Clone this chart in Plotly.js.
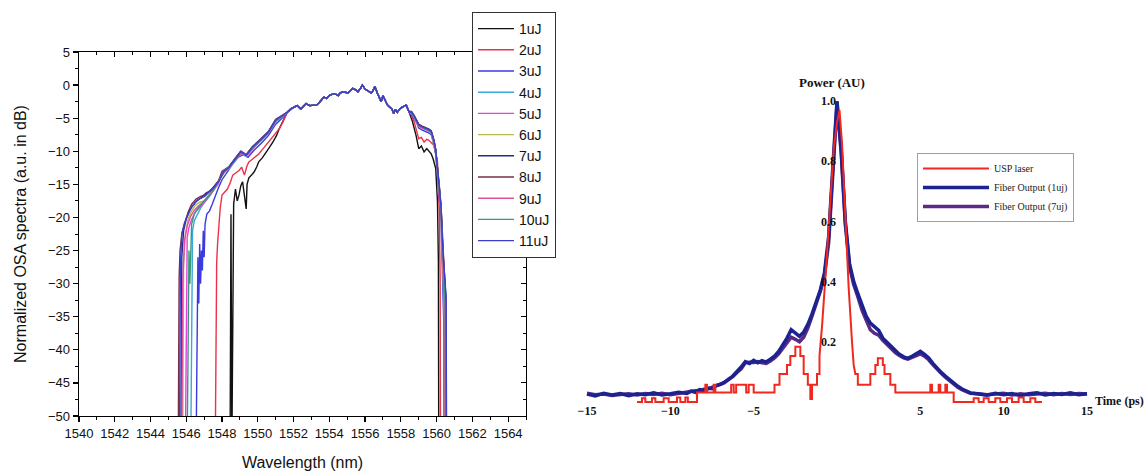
<!DOCTYPE html>
<html>
<head>
<meta charset="utf-8">
<script src="https://cdn.plot.ly/plotly-3.0.1.min.js"></script>
<style>html,body{margin:0;padding:0;background:#fff;}#chart{width:1145px;height:471px;}</style>
</head>
<body>
<div id="chart"></div>
<script>
// ---------- LEFT PANEL: normalized OSA spectra ----------
const seriesNames = ['1uJ','2uJ','3uJ','4uJ','5uJ','6uJ','7uJ','8uJ','9uJ','10uJ','11uJ'];
const seriesColors = ['#111111','#e8334a','#3a3ae0','#3aa8d8','#e040e0','#b8b850','#26268c','#7a2e46','#e0509c','#3a9a78','#3c3cd0'];

// shared top of the spectrum (all curves overlap here)
const bodyWl = [1551.65,1551.85,1552.03,1552.2,1552.4,1552.55,1552.7,1552.9,1553.1,1553.3,1553.45,1553.55,1553.7,1553.85,1554.0,1554.15,1554.3,1554.5,1554.6,1554.75,1554.9,1555.05,1555.2,1555.3,1555.45,1555.6,1555.75,1555.85,1556.0,1556.1,1556.25,1556.35,1556.45,1556.55,1556.7,1556.8,1556.9,1557.0,1557.1,1557.25,1557.4,1557.5,1557.6,1557.7,1557.8,1557.95,1558.1,1558.3,1558.45];
const bodyDb = [-4.1,-3.6,-3.3,-3.1,-3.6,-3.2,-2.8,-3.1,-3.0,-3.0,-2.6,-2.3,-1.8,-2.0,-1.6,-1.4,-1.3,-1.6,-1.2,-1.0,-1.1,-1.2,-0.8,-0.5,-0.7,-1.0,-0.5,0.0,-0.6,-0.8,-1.0,-1.2,-0.8,-0.2,-1.3,-2.0,-2.5,-1.6,-2.2,-3.0,-3.4,-3.6,-4.3,-3.7,-4.1,-3.6,-3.3,-3.0,-4.0];

// short-wavelength edge of each series
const leftWl = [
 [1548.45,1548.5,1548.55,1548.6,1548.65,1548.75,1548.85,1548.95,1549.05,1549.15,1549.25,1549.35,1549.4,1549.5,1549.65,1549.8,1549.95,1550.05,1550.25,1550.45,1550.65,1550.85,1551.05,1551.2,1551.4],
 [1547.62,1547.65,1547.7,1547.75,1547.8,1547.9,1548.0,1548.15,1548.3,1548.45,1548.6,1548.8,1548.95,1549.1,1549.25,1549.4,1549.5,1549.7,1549.9,1550.05,1550.3,1550.6,1550.9,1551.2,1551.4],
 [1546.55,1546.6,1546.65,1546.7,1546.75,1546.8,1546.85,1546.9,1546.95,1547.0,1547.05,1547.15,1547.3,1547.45,1547.6,1547.8,1548.0,1548.3,1548.6,1548.9,1549.2,1549.45,1549.8,1550.2,1550.6,1551.0,1551.4],
 [1546.25,1546.3,1546.35,1546.45,1546.6,1546.8,1547.0,1547.3,1547.6,1548.0,1548.4,1548.75,1549.05,1549.35,1549.7,1550.15,1550.6,1551.0,1551.4],
 [1545.95,1546.0,1546.05,1546.15,1546.3,1546.5,1546.8,1547.1,1547.5,1547.8,1548.0,1548.4,1548.75,1549.05,1549.35,1549.7,1550.15,1550.6,1551.0,1551.4],
 [1545.8,1545.85,1545.95,1546.1,1546.3,1546.5,1546.75,1547.0,1547.3,1547.6,1547.9,1548.2,1548.5,1548.8,1549.1,1549.4,1549.8,1550.2,1550.6,1551.0,1551.4],
 [1545.7,1545.75,1545.85,1546.0,1546.2,1546.4,1546.6,1546.85,1547.1,1547.35,1547.6,1547.85,1548.1,1548.4,1548.75,1549.05,1549.35,1549.7,1550.15,1550.6,1551.0,1551.4],
 [1545.55,1545.6,1545.65,1545.75,1545.9,1546.1,1546.3,1546.55,1546.8,1547.05,1547.3,1547.55,1547.8,1548.0,1548.4,1548.75,1549.05,1549.35,1549.7,1550.15,1550.6,1551.0,1551.4],
 [1545.75,1545.8,1545.9,1546.05,1546.25,1546.45,1546.7,1547.0,1547.3,1547.6,1547.9,1548.2,1548.5,1548.85,1549.15,1549.45,1549.8,1550.2,1550.6,1551.0,1551.4],
 [1546.05,1546.1,1546.15,1546.2,1546.3,1546.45,1546.65,1546.9,1547.2,1547.5,1547.8,1548.1,1548.4,1548.75,1549.05,1549.35,1549.7,1550.15,1550.6,1551.0,1551.4],
 [1545.62,1545.67,1545.75,1545.9,1546.1,1546.3,1546.55,1546.8,1547.05,1547.35,1547.6,1547.85,1548.1,1548.4,1548.75,1549.05,1549.35,1549.7,1550.15,1550.6,1551.0,1551.4]
];
const leftDb = [
 [-55,-19.5,-55,-23,-18,-15.7,-17.5,-16.6,-15.2,-14.6,-16.5,-18.7,-15,-14,-13.6,-13.1,-12.3,-11.6,-11.0,-10.1,-9.4,-8.6,-7.6,-6.6,-5.4],
 [-55,-33,-26.7,-24,-21.7,-18.5,-16.6,-16.2,-15.7,-14.8,-13.6,-13.2,-12.9,-12.4,-13.6,-12.2,-11.6,-11.2,-10.8,-10.4,-9.6,-8.6,-7.6,-6.6,-5.6],
 [-55,-38,-26,-33,-24,-30,-25,-28,-22,-26,-21,-19.5,-19,-18,-16.8,-15.5,-14.3,-13,-11.9,-10.9,-10.5,-10.9,-9.8,-8.8,-7.6,-5.9,-4.9],
 [-55,-30,-22,-20.5,-19.6,-18.6,-17.8,-16.8,-15.6,-13.5,-12.6,-11.3,-10.3,-10.8,-9.6,-8.5,-7.3,-5.6,-4.7],
 [-55,-29,-23,-21.5,-20.3,-19.2,-18.3,-17.4,-16.0,-14.9,-13.3,-12.5,-11.2,-10.2,-10.7,-9.5,-8.4,-7.2,-5.4,-4.6],
 [-55,-27,-22.5,-20.3,-19.0,-18.2,-17.7,-17.5,-16.6,-15.6,-14.2,-12.9,-12.2,-10.9,-10.2,-10.6,-9.3,-8.2,-7.1,-5.3,-4.6],
 [-55,-26,-22,-20.2,-18.8,-18.0,-17.4,-17.0,-16.3,-16.0,-15.2,-14.3,-13.0,-12.3,-11.0,-10.0,-10.5,-9.3,-8.2,-7.0,-5.2,-4.5],
 [-55,-29,-25,-22.5,-21.0,-19.2,-18.0,-17.2,-16.8,-16.6,-16.0,-15.4,-14.5,-13.0,-12.3,-11.0,-10.0,-10.5,-9.3,-8.2,-7.0,-5.2,-4.5],
 [-55,-30,-23.5,-21.3,-19.8,-18.9,-18.2,-17.6,-16.6,-15.5,-14.0,-12.8,-12.1,-10.8,-10.3,-10.5,-9.4,-8.3,-7.2,-5.4,-4.6],
 [-55,-41,-25,-30,-21,-19.5,-18.6,-17.8,-16.9,-15.9,-14.6,-13.0,-12.4,-11.1,-10.1,-10.6,-9.4,-8.3,-7.1,-5.3,-4.6],
 [-55,-27,-22.5,-20.8,-19.6,-18.4,-17.6,-17.1,-16.8,-16.0,-15.3,-14.4,-13.1,-12.4,-11.1,-10.1,-10.6,-9.4,-8.3,-7.1,-5.3,-4.6]
];
// long-wavelength edge of each series
const rightWl = [
 [1558.65,1558.85,1559.0,1559.15,1559.3,1559.45,1559.55,1559.7,1559.8,1559.95,1560.05,1560.1,1560.12],
 [1558.6,1558.75,1558.9,1559.0,1559.15,1559.3,1559.45,1559.55,1559.7,1559.85,1560.05,1560.15,1560.2,1560.22],
 [1558.6,1558.75,1558.9,1559.0,1559.2,1559.4,1559.55,1559.7,1559.85,1559.95,1560.05,1560.15,1560.25,1560.33,1560.4,1560.42],
 [1558.6,1558.75,1558.9,1559.0,1559.2,1559.4,1559.55,1559.7,1559.85,1559.95,1560.05,1560.15,1560.25,1560.35,1560.43,1560.45],
 [1558.6,1558.75,1558.9,1559.0,1559.2,1559.4,1559.55,1559.7,1559.85,1559.95,1560.05,1560.15,1560.25,1560.35,1560.48,1560.5],
 [1558.6,1558.75,1558.9,1559.0,1559.2,1559.4,1559.55,1559.7,1559.85,1559.95,1560.05,1560.15,1560.25,1560.35,1560.44,1560.46],
 [1558.6,1558.75,1558.9,1559.0,1559.2,1559.4,1559.55,1559.7,1559.85,1559.95,1560.05,1560.15,1560.25,1560.35,1560.52,1560.55],
 [1558.6,1558.75,1558.9,1559.0,1559.2,1559.4,1559.55,1559.7,1559.85,1559.95,1560.05,1560.15,1560.25,1560.35,1560.5,1560.52],
 [1558.6,1558.75,1558.9,1559.0,1559.2,1559.4,1559.55,1559.7,1559.85,1559.95,1560.05,1560.15,1560.25,1560.35,1560.45,1560.47],
 [1558.6,1558.75,1558.9,1559.0,1559.2,1559.4,1559.55,1559.7,1559.85,1559.95,1560.05,1560.15,1560.25,1560.35,1560.48,1560.5],
 [1558.6,1558.75,1558.9,1559.0,1559.2,1559.4,1559.55,1559.7,1559.85,1559.95,1560.05,1560.15,1560.25,1560.35,1560.53,1560.56]
];
const rightDb = [
 [-5.5,-7.6,-9.6,-9.2,-10.1,-9.6,-9.9,-10.4,-11.1,-12.6,-17.7,-26.7,-55],
 [-4.6,-5.6,-7.2,-8.1,-7.9,-8.6,-8.2,-8.3,-8.7,-9.1,-11.6,-19.2,-30,-55],
 [-4.5,-5.1,-5.8,-6.5,-6.8,-7.0,-7.2,-7.5,-9.0,-10.5,-13.2,-16.8,-20.5,-27,-36,-55],
 [-4.3,-4.9,-5.6,-6.2,-6.5,-6.7,-6.9,-7.2,-8.6,-10.0,-12.6,-16.0,-19.2,-26.5,-35,-55],
 [-4.2,-4.8,-5.5,-6.1,-6.4,-6.6,-6.8,-7.1,-8.5,-9.9,-12.4,-15.6,-18.8,-25.5,-33,-55],
 [-4.3,-4.9,-5.6,-6.2,-6.5,-6.7,-6.9,-7.2,-8.7,-10.1,-12.7,-16.1,-19.4,-26.8,-35,-55],
 [-4.1,-4.7,-5.4,-6.0,-6.3,-6.5,-6.7,-7.0,-8.4,-9.8,-12.2,-15.4,-18.5,-25,-32,-55],
 [-4.0,-4.6,-5.3,-5.9,-6.2,-6.4,-6.6,-6.9,-8.3,-9.7,-12.0,-15.2,-18.3,-24.8,-32,-55],
 [-4.3,-4.9,-5.6,-6.2,-6.5,-6.7,-6.9,-7.2,-8.6,-10.0,-12.6,-16.0,-19.2,-26.5,-35,-55],
 [-4.2,-4.8,-5.5,-6.1,-6.4,-6.6,-6.8,-7.1,-8.5,-9.9,-12.4,-15.6,-18.8,-25.5,-33,-55],
 [-4.1,-4.7,-5.4,-6.0,-6.3,-6.5,-6.7,-7.0,-8.4,-9.8,-12.2,-15.4,-18.5,-25,-32,-55]
];

// ---------- RIGHT PANEL: autocorrelation traces ----------
const pulseNames = ['USP laser','Fiber Output (1uj)','Fiber Output (7uj)'];
const pulseColors = ['#f0281e','#1c2290','#5b2a86'];
const timeFiber = [-15,-14.5,-14,-13.5,-13,-12.5,-12,-11.5,-11,-10.5,-10,-9.5,-9,
 -8.75,-8.5,-8.25,-8,-7.75,-7.5,-7.25,-7,-6.75,-6.5,-6.25,-6,
 -5.75,-5.5,-5.25,-5,-4.75,-4.5,-4.25,-4,
 -3.75,-3.5,-3.25,-3,-2.75,-2.5,-2.25,-2,-1.75,-1.5,-1.25,-1,
 -0.75,-0.5,-0.25,0,0.25,0.5,0.75,
 1,1.25,1.5,1.75,2,2.25,2.5,2.75,3,
 3.25,3.5,3.75,4,4.25,4.5,4.75,5,5.25,5.5,5.75,6,
 6.25,6.5,6.75,7,7.25,7.5,7.75,8,
 8.5,9,9.5,10,10.5,11,11.5,12,12.5,13,13.5,14,14.5,15];
const powerFiber1 = [0.026,0.020,0.029,0.023,0.028,0.021,0.027,0.024,0.030,0.023,0.027,0.032,0.028,
 0.036,0.032,0.041,0.038,0.046,0.044,0.054,0.058,0.066,0.074,0.086,0.100,
 0.116,0.134,0.128,0.138,0.130,0.137,0.133,0.142,
 0.152,0.168,0.188,0.212,0.240,0.228,0.218,0.232,0.258,0.292,0.330,0.372,
 0.43,0.55,0.78,1.0,0.84,0.60,0.46,
 0.40,0.36,0.32,0.285,0.262,0.248,0.238,0.212,0.198,
 0.182,0.170,0.158,0.150,0.145,0.152,0.160,0.168,0.158,0.146,0.128,0.112,
 0.098,0.086,0.074,0.062,0.052,0.043,0.036,0.030,
 0.026,0.022,0.029,0.024,0.028,0.021,0.027,0.030,0.023,0.028,0.025,0.030,0.024,0.027];
const powerFiber7 = [0.029,0.024,0.026,0.021,0.025,0.027,0.023,0.028,0.025,0.029,0.024,0.028,0.031,
 0.033,0.037,0.036,0.042,0.043,0.049,0.052,0.060,0.064,0.076,0.084,0.098,
 0.110,0.130,0.132,0.131,0.134,0.130,0.128,0.136,
 0.146,0.160,0.180,0.198,0.215,0.208,0.200,0.215,0.245,0.285,0.325,0.368,
 0.42,0.53,0.76,0.99,0.83,0.59,0.45,
 0.39,0.35,0.305,0.272,0.240,0.228,0.222,0.205,0.190,
 0.176,0.164,0.154,0.146,0.142,0.148,0.155,0.160,0.152,0.140,0.124,0.108,
 0.095,0.082,0.071,0.058,0.049,0.041,0.034,0.029,
 0.027,0.024,0.026,0.029,0.023,0.027,0.024,0.026,0.029,0.024,0.028,0.025,0.028,0.026];
const timeLaser = [-12.0,-11.7,-11.7,-11.5,-11.5,-11.1,-11.1,-10.9,-10.9,-10.4,-10.4,-10.1,-10.1,-9.6,-9.6,-9.4,-9.4,-9.1,-9.1,-8.95,-8.95,-8.4,-8.4,-7.9,-7.9,-7.8,-7.8,-7.4,-7.4,-7.3,-7.3,-6.35,-6.35,-6.2,-6.2,-6.05,-6.05,-5.45,-5.45,-5.3,-5.3,-5.0,-5.0,-3.75,-3.75,-3.45,-3.45,-3.0,-3.0,-2.8,-2.8,-2.5,-2.5,-2.2,-2.2,-2.0,-2.0,-1.75,-1.75,-1.6,-1.6,-1.5,-1.5,-1.2,-1.2,-1.05,-1.05,-0.9,-0.65,-0.4,-0.2,0.0,0.15,0.3,0.5,0.7,0.9,1.0,1.1,1.25,1.25,2.0,2.0,2.3,2.3,2.45,2.45,2.75,2.75,2.85,2.85,3.2,3.2,3.5,3.5,5.6,5.6,5.7,5.7,6.1,6.1,6.2,6.2,6.5,6.5,6.6,6.6,7.0,7.0,8.2,8.2,8.5,8.5,8.8,8.8,9.1,9.1,9.5,9.5,9.8,9.8,10.2,10.2,10.5,10.5,10.9,10.9,11.2,11.2,11.6,11.6,11.9,11.9,12.3];
const powerLaser = [0.0,0.0,0.012,0.012,0.0,0.0,0.012,0.012,0.0,0.0,0.012,0.012,0.0,0.0,0.015,0.015,0.0,0.0,0.015,0.015,0.0,0.0,0.031,0.031,0.057,0.057,0.031,0.031,0.057,0.057,0.031,0.031,0.057,0.057,0.031,0.031,0.057,0.057,0.031,0.031,0.057,0.057,0.031,0.031,0.057,0.057,0.093,0.093,0.123,0.123,0.153,0.153,0.183,0.183,0.153,0.153,0.093,0.093,0.057,0.057,0.01,0.01,0.057,0.057,0.093,0.093,0.153,0.25,0.45,0.66,0.84,0.93,0.97,0.86,0.62,0.38,0.2,0.123,0.093,0.093,0.057,0.057,0.093,0.093,0.123,0.123,0.145,0.145,0.123,0.123,0.093,0.093,0.057,0.057,0.031,0.031,0.057,0.057,0.031,0.031,0.057,0.057,0.031,0.031,0.057,0.057,0.031,0.031,0.0,0.0,0.012,0.012,0.0,0.0,0.012,0.012,0.0,0.0,0.012,0.012,0.0,0.0,0.012,0.012,0.0,0.0,0.015,0.015,0.0,0.0,0.012,0.012,0.0,0.0];
const timeTicks = [-15,-10,-5,5,10,15];
const timeTickText = ['\u221215','\u221210','\u22125','5','10','15'];
const powerTicks = [0.2,0.4,0.6,0.8,1.0];
const powerTickText = ['0.2','0.4','0.6','0.8','1.0'];

// ---------- build traces ----------
const traces = [];
for (let i = 0; i < seriesNames.length; i++) {
  traces.push({
    type: 'scatter', mode: 'lines', name: seriesNames[i],
    x: leftWl[i].concat(bodyWl, rightWl[i]),
    y: leftDb[i].concat(bodyDb, rightDb[i]),
    line: {color: seriesColors[i], width: 1.4},
    xaxis: 'x', yaxis: 'y', legend: 'legend', hoverinfo: 'skip'
  });
}
// overlay subplot only for inward top/right ticks
traces.push({type:'scatter', mode:'lines', x:[], y:[], xaxis:'x3', yaxis:'y3', showlegend:false, hoverinfo:'skip'});

traces.push({type:'scatter', mode:'lines', name: pulseNames[2], x: timeFiber, y: powerFiber7,
  line:{color: pulseColors[2], width: 3.5}, xaxis:'x2', yaxis:'y2', legend:'legend2', legendrank: 3, hoverinfo:'skip'});
traces.push({type:'scatter', mode:'lines', name: pulseNames[1], x: timeFiber, y: powerFiber1,
  line:{color: pulseColors[1], width: 3.5}, xaxis:'x2', yaxis:'y2', legend:'legend2', legendrank: 2, hoverinfo:'skip'});
traces.push({type:'scatter', mode:'lines', name: pulseNames[0], x: timeLaser, y: powerLaser,
  line:{color: pulseColors[0], width: 2}, xaxis:'x2', yaxis:'y2', legend:'legend2', legendrank: 1, hoverinfo:'skip'});

const serif = 'Liberation Serif, Times New Roman, serif';
const sans = 'Liberation Sans, Arial, sans-serif';

const layout = {
  width: 1145, height: 471,
  margin: {l:0, r:0, t:0, b:0},
  paper_bgcolor: '#ffffff', plot_bgcolor: 'rgba(0,0,0,0)',
  font: {family: sans, color: '#111'},
  showlegend: true,
  xaxis: {
    domain: [79/1145, 526/1145], range: [1540, 1565], anchor: 'y',
    tick0: 1540, dtick: 2, ticks: 'outside', ticklen: 5, tickwidth: 1.2, tickcolor: '#000',
    minor: {ticks: 'outside', ticklen: 3, dtick: 1, tickcolor: '#000', tickwidth: 1},
    showline: true, linecolor: '#000', linewidth: 1.3, mirror: true,
    showgrid: false, zeroline: false,
    tickfont: {family: sans, size: 13, color: '#111'},
    title: {text: 'Wavelength (nm)', font: {family: sans, size: 16, color: '#111'}, standoff: 17}
  },
  yaxis: {
    domain: [1-416/471, 1-52/471], range: [-50, 5], anchor: 'x',
    tick0: 0, dtick: 5, ticks: 'outside', ticklen: 5, tickwidth: 1.2, tickcolor: '#000',
    minor: {ticks: 'outside', ticklen: 3, dtick: 2.5, tickcolor: '#000', tickwidth: 1},
    showline: true, linecolor: '#000', linewidth: 1.3, mirror: true,
    showgrid: false, zeroline: false,
    tickfont: {family: sans, size: 13, color: '#111'},
    title: {text: 'Normalized OSA spectra (a.u. in dB)', font: {family: sans, size: 16, color: '#111'}, standoff: 17}
  },
  xaxis3: {
    overlaying: 'x', side: 'top', anchor: 'y3', domain: [79/1145, 526/1145],
    range: [1540, 1565], tick0: 1540, dtick: 2, ticks: 'inside', ticklen: 5, tickcolor: '#000',
    minor: {ticks: 'inside', ticklen: 3, dtick: 1, tickcolor: '#000'},
    showticklabels: false, showline: false, showgrid: false, zeroline: false
  },
  yaxis3: {
    overlaying: 'y', side: 'right', anchor: 'x3', domain: [1-416/471, 1-52/471],
    range: [-50, 5], tick0: 0, dtick: 5, ticks: 'inside', ticklen: 5, tickcolor: '#000',
    minor: {ticks: 'inside', ticklen: 3, dtick: 2.5, tickcolor: '#000'},
    showticklabels: false, showline: false, showgrid: false, zeroline: false
  },
  xaxis2: {
    domain: [582/1145, 1092/1145], range: [-15.3, 15.3], anchor: 'free', position: 1-402/471,
    tickmode: 'array', tickvals: timeTicks, ticktext: timeTickText,
    ticks: '', showline: false, showgrid: false, zeroline: false,
    tickfont: {family: serif, size: 12, color: '#111', weight: 'bold'}
  },
  yaxis2: {
    domain: [1-432/471, 1-71/471], range: [-0.1, 1.1], anchor: 'free', position: 836/1145,
    tickmode: 'array', tickvals: powerTicks, ticktext: powerTickText,
    ticks: '', showline: false, showgrid: false, zeroline: false,
    tickfont: {family: serif, size: 12, color: '#111', weight: 'bold'}
  },
  legend: {
    x: 472/1145, y: 1-12/471, xanchor: 'left', yanchor: 'top',
    bgcolor: '#ffffff', bordercolor: '#333', borderwidth: 1,
    font: {family: sans, size: 14, color: '#111'}, tracegroupgap: 0, itemwidth: 36
  },
  legend2: {
    x: 917/1145, y: 1-153/471, xanchor: 'left', yanchor: 'top',
    bgcolor: '#ffffff', bordercolor: '#9aa0b4', borderwidth: 1,
    font: {family: serif, size: 10, color: '#222'}, itemwidth: 66, traceorder: 'normal'
  },
  annotations: [
    {text: '<b>Power (AU)</b>', xref: 'paper', yref: 'paper', x: 832/1145, y: 1-83/471,
     xanchor: 'center', yanchor: 'middle', showarrow: false, font: {family: serif, size: 13, color: '#111'}},
    {text: '<b>Time (ps)</b>', xref: 'paper', yref: 'paper', x: 1093/1145, y: 1-401/471,
     xanchor: 'left', yanchor: 'middle', showarrow: false, font: {family: serif, size: 12, color: '#111'}}
  ]
};

Plotly.newPlot('chart', traces, layout, {staticPlot: true, displayModeBar: false});
</script>
</body>
</html>
